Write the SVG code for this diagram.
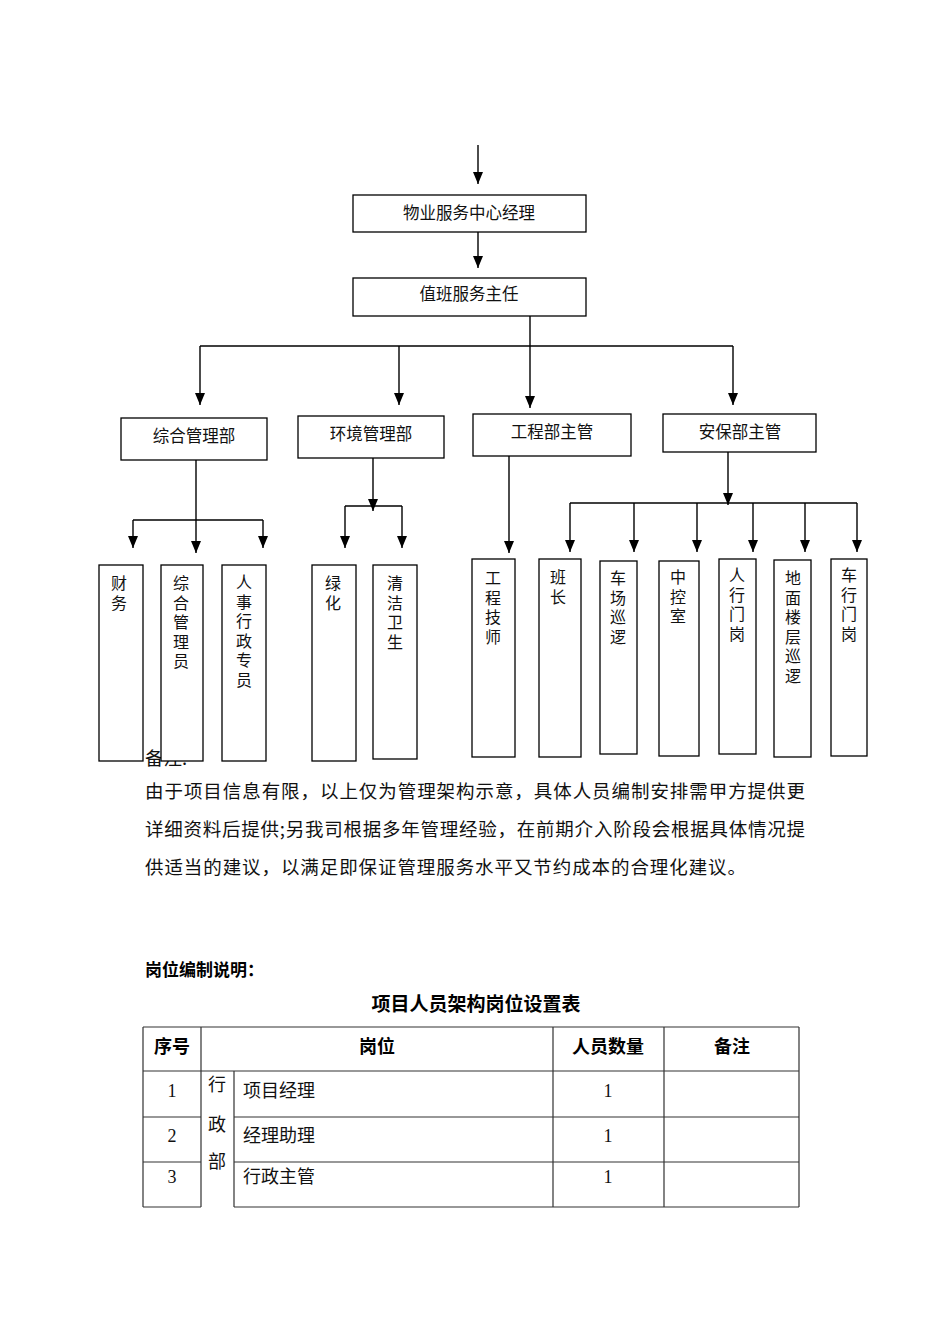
<svg xmlns="http://www.w3.org/2000/svg" width="950" height="1344" viewBox="0 0 950 1344">
<style>
.bg{fill:#ffffff}
.box{fill:#ffffff;stroke:#000;stroke-width:1.3}
.ln{fill:none;stroke:#000;stroke-width:1.4}
.arr{fill:none;stroke:#000;stroke-width:1.4;marker-end:url(#ah)}
.t{font-family:"Noto Sans CJK SC","Noto Sans CJK JP",sans-serif;font-size:16.5px;fill:#111}
.v{font-family:"Noto Sans CJK SC","Noto Sans CJK JP",sans-serif;font-size:16px;fill:#111;text-anchor:middle}
.tm{text-anchor:middle}
.p{font-family:"Noto Sans CJK SC","Noto Sans CJK JP",sans-serif;font-size:18.5px;fill:#111}
.b{font-family:"Noto Sans CJK SC","Noto Sans CJK JP",sans-serif;font-size:18px;font-weight:bold;fill:#000}
.n{font-family:"Liberation Serif",serif;font-size:18px;fill:#111;text-anchor:middle}
.c{font-family:"Noto Sans CJK SC","Noto Sans CJK JP",sans-serif;font-size:18px;fill:#111}
.tb{fill:none;stroke:#333;stroke-width:1.2}
</style>
<defs>
<marker id="ah" markerUnits="userSpaceOnUse" markerWidth="12" markerHeight="10" viewBox="0 0 12 10" refX="12" refY="5" orient="auto">
<path d="M0,0 L12,5 L0,10 z" fill="#000"/>
</marker>
</defs>
<rect class="bg" x="0" y="0" width="950" height="1344"/>

<!-- text behind boxes -->
<text class="p" x="145" y="765">备注:</text>

<g id="connectors">
<path class="arr" d="M478,145 V184"/>
<path class="arr" d="M478,229 V268"/>
<path class="arr" d="M530,313 V408"/>
<path class="ln" d="M200,346 H733"/>
<path class="arr" d="M200,346 V405"/>
<path class="arr" d="M399,346 V405"/>
<path class="arr" d="M733,346 V405"/>
<path class="arr" d="M196,457 V553"/>
<path class="ln" d="M133,520 H263"/>
<path class="arr" d="M133,520 V548"/>
<path class="arr" d="M263,520 V548"/>
<path class="arr" d="M373,458 V511"/>
<path class="ln" d="M345,506 H402"/>
<path class="arr" d="M345,506 V548"/>
<path class="arr" d="M402,506 V548"/>
<path class="arr" d="M509,453 V553"/>
<path class="arr" d="M728,452 V505"/>
<path class="ln" d="M570,503 H857"/>
<path class="arr" d="M570,503 V552"/>
<path class="arr" d="M634,503 V552"/>
<path class="arr" d="M697,503 V552"/>
<path class="arr" d="M753,503 V552"/>
<path class="arr" d="M805,503 V552"/>
<path class="arr" d="M857,503 V552"/>
</g>

<g id="n-manager"><rect class="box" x="353" y="195" width="233" height="37"/><text class="t tm" x="469" y="219">物业服务中心经理</text></g>
<g id="n-duty"><rect class="box" x="353" y="278" width="233" height="38"/><text class="t tm" x="469" y="300">值班服务主任</text></g>

<g id="n-zonghe"><rect class="box" x="121" y="418" width="146" height="42"/><text class="t tm" x="194" y="442">综合管理部</text></g>
<g id="n-huanjing"><rect class="box" x="298" y="416" width="146" height="42"/><text class="t tm" x="371" y="440">环境管理部</text></g>
<g id="n-gongcheng"><rect class="box" x="473" y="414" width="158" height="42"/><text class="t tm" x="552" y="438">工程部主管</text></g>
<g id="n-anbao"><rect class="box" x="663" y="414" width="153" height="38"/><text class="t tm" x="740" y="438">安保部主管</text></g>

<g id="n-caiwu"><rect class="box" x="99" y="565" width="44" height="196"/>
<text class="v"><tspan x="119" y="589">财</tspan><tspan x="119" y="608.5">务</tspan></text></g>
<g id="n-zhgly"><rect class="box" x="161" y="565" width="42" height="196"/>
<text class="v"><tspan x="181" y="589">综</tspan><tspan x="181" y="608.5">合</tspan><tspan x="181" y="628">管</tspan><tspan x="181" y="647.5">理</tspan><tspan x="181" y="667">员</tspan></text></g>
<g id="n-renshi"><rect class="box" x="222" y="565" width="44" height="196"/>
<text class="v"><tspan x="244" y="588">人</tspan><tspan x="244" y="607.5">事</tspan><tspan x="244" y="627">行</tspan><tspan x="244" y="646.5">政</tspan><tspan x="244" y="666">专</tspan><tspan x="244" y="685.5">员</tspan></text></g>
<g id="n-lvhua"><rect class="box" x="312" y="565" width="44" height="196"/>
<text class="v"><tspan x="333" y="589">绿</tspan><tspan x="333" y="608.5">化</tspan></text></g>
<g id="n-qingjie"><rect class="box" x="373" y="565" width="44" height="194"/>
<text class="v"><tspan x="395" y="589">清</tspan><tspan x="395" y="608.5">洁</tspan><tspan x="395" y="628">卫</tspan><tspan x="395" y="647.5">生</tspan></text></g>

<g id="n-jishi"><rect class="box" x="472" y="559" width="43" height="198"/>
<text class="v"><tspan x="493" y="584">工</tspan><tspan x="493" y="603.5">程</tspan><tspan x="493" y="623">技</tspan><tspan x="493" y="642.5">师</tspan></text></g>
<g id="n-banzhang"><rect class="box" x="539" y="559" width="42" height="198"/>
<text class="v"><tspan x="558" y="583">班</tspan><tspan x="558" y="602.5">长</tspan></text></g>
<g id="n-chechang"><rect class="box" x="600" y="561" width="37" height="193"/>
<text class="v"><tspan x="618" y="584">车</tspan><tspan x="618" y="603.5">场</tspan><tspan x="618" y="623">巡</tspan><tspan x="618" y="642.5">逻</tspan></text></g>
<g id="n-zhongkong"><rect class="box" x="659" y="561" width="40" height="195"/>
<text class="v"><tspan x="678" y="583">中</tspan><tspan x="678" y="602.5">控</tspan><tspan x="678" y="622">室</tspan></text></g>
<g id="n-renxing"><rect class="box" x="719" y="559" width="37" height="195"/>
<text class="v"><tspan x="737" y="581">人</tspan><tspan x="737" y="600.5">行</tspan><tspan x="737" y="620">门</tspan><tspan x="737" y="639.5">岗</tspan></text></g>
<g id="n-dimian"><rect class="box" x="774" y="560" width="37" height="197"/>
<text class="v"><tspan x="793" y="584">地</tspan><tspan x="793" y="603.5">面</tspan><tspan x="793" y="623">楼</tspan><tspan x="793" y="642.5">层</tspan><tspan x="793" y="662">巡</tspan><tspan x="793" y="681.5">逻</tspan></text></g>
<g id="n-chexing"><rect class="box" x="831" y="559" width="36" height="197"/>
<text class="v"><tspan x="849" y="581">车</tspan><tspan x="849" y="600.5">行</tspan><tspan x="849" y="620">门</tspan><tspan x="849" y="639.5">岗</tspan></text></g>

<g id="note">
<text class="p" x="145" y="798" textLength="660" lengthAdjust="spacing">由于项目信息有限，以上仅为管理架构示意，具体人员编制安排需甲方提供更</text>
<text class="p" x="145" y="836" textLength="660" lengthAdjust="spacing">详细资料后提供;另我司根据多年管理经验，在前期介入阶段会根据具体情况提</text>
<text class="p" x="145" y="874" textLength="601" lengthAdjust="spacing">供适当的建议，以满足即保证管理服务水平又节约成本的合理化建议。</text>
</g>

<g id="table">
<text class="b" x="145" y="976" style="font-size:17px">岗位编制说明：</text>
<text class="b" x="476" y="1011" text-anchor="middle" style="font-size:19px">项目人员架构岗位设置表</text>
<path class="tb" d="M143,1027 H799 M143,1071 H799 M143,1117 H201 M234,1117 H799 M143,1162 H201 M234,1162 H799 M143,1207 H201 M234,1207 H799 M143,1027 V1207 M201,1027 V1207 M234,1071 V1207 M553,1027 V1207 M664,1027 V1207 M799,1027 V1207"/>
<text class="b" x="172" y="1053" text-anchor="middle">序号</text>
<text class="b" x="377" y="1053" text-anchor="middle">岗位</text>
<text class="b" x="608" y="1053" text-anchor="middle">人员数量</text>
<text class="b" x="732" y="1053" text-anchor="middle">备注</text>
<text class="n" x="172" y="1097">1</text>
<text class="n" x="172" y="1142">2</text>
<text class="n" x="172" y="1183">3</text>
<text class="c" text-anchor="middle"><tspan x="217" y="1091">行</tspan><tspan x="217" y="1131">政</tspan><tspan x="217" y="1168">部</tspan></text>
<text class="c" x="243" y="1097">项目经理</text>
<text class="c" x="243" y="1142">经理助理</text>
<text class="c" x="243" y="1183">行政主管</text>
<text class="n" x="608" y="1097">1</text>
<text class="n" x="608" y="1142">1</text>
<text class="n" x="608" y="1183">1</text>
</g>
</svg>
